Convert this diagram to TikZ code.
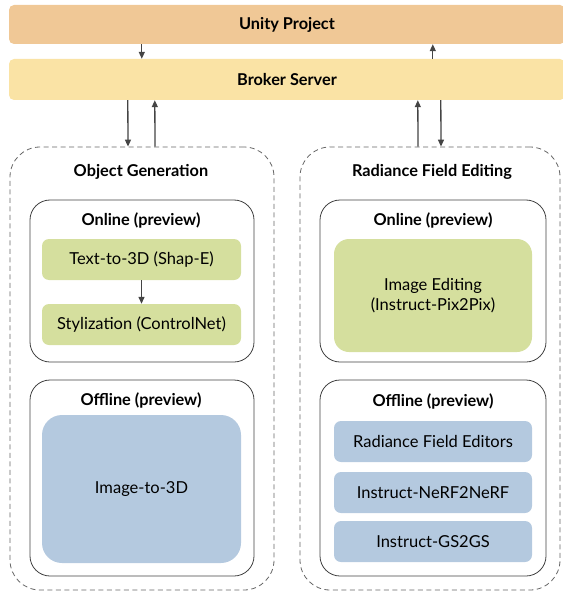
\documentclass[tikz,border=0pt]{standalone}
\usepackage{fontspec}
\setmainfont{Lato}
\usetikzlibrary{arrows.meta,positioning}
\definecolor{unityc}{HTML}{F0C896}
\definecolor{brokerc}{HTML}{FAE3A5}
\definecolor{greenc}{HTML}{D5DF9E}
\definecolor{bluec}{HTML}{B4C9DF}
\definecolor{arrc}{HTML}{444444}
\tikzset{
  band/.style={fill=#1,draw=none,rounded corners=5pt,inner sep=0pt,font=\fontsize{16.3}{19}\selectfont\bfseries},
  group/.style={draw=black!60,dashed,dash pattern=on 5pt off 3.5pt,line width=0.8pt,rounded corners=30pt,inner sep=0pt},
  panel/.style={draw=black!75,line width=0.8pt,rounded corners=20pt,inner sep=0pt},
  item/.style={fill=#1,draw=none,rounded corners=7pt,inner sep=0pt,align=center,font=\fontsize{16.5}{20}\selectfont},
  title/.style={font=\fontsize{16.3}{19}\selectfont\bfseries,inner sep=0pt},
  arr/.style={draw=arrc,line width=1.3pt,-{Triangle[length=7pt,width=6pt]}}
}
\begin{document}
\begin{tikzpicture}[x=1pt,y=-1pt]
\useasboundingbox (0,0) rectangle (562,596);
% bands
\node[band=unityc,minimum width=556pt,minimum height=39pt] (unity) at (287,24.5) {Unity Project};
\node[band=brokerc,minimum width=556pt,minimum height=41pt] (broker) at (287,79.5) {Broker Server};
% groups
\node[group,minimum width=264pt,minimum height=443pt] (og) at (142,368.5) {};
\node[group,minimum width=260pt,minimum height=443pt] (rf) at (430,368.5) {};
\node[title] (ogt) at (141,172) {Object Generation};
\node[title] (rft) at (432,172) {Radiance Field Editing};
% left panels
\node[panel,minimum width=224pt,minimum height=162pt] (lon) at (142,281) {};
\node[title] (lont) at (141,220) {Online (preview)};
\node[item=greenc,minimum width=199pt,minimum height=41pt] (t3d) at (141.5,259.5) {Text-to-3D (Shap-E)};
\node[item=greenc,minimum width=199pt,minimum height=41pt] (sty) at (141.5,324.5) {Stylization (ControlNet)};
\node[panel,minimum width=224pt,minimum height=196pt] (loff) at (142,478) {};
\node[title] (lofft) at (141,400) {Offline (preview)};
\node[item=bluec,rounded corners=20pt,minimum width=199pt,minimum height=148pt] (i3d) at (141.5,489) {Image-to-3D};
% right panels
\node[panel,minimum width=226pt,minimum height=162pt] (ron) at (433,281) {};
\node[title] (ront) at (433,220) {Online (preview)};
\node[item=greenc,rounded corners=15pt,minimum width=198pt,minimum height=113pt] (ied) at (433,295.5) {Image Editing\\(Instruct-Pix2Pix)};
\node[panel,minimum width=226pt,minimum height=196pt] (roff) at (433,478) {};
\node[title] (rofft) at (433,401) {Offline (preview)};
\node[item=bluec,minimum width=198pt,minimum height=41pt] (rfe) at (433,441.5) {Radiance Field Editors};
\node[item=bluec,minimum width=198pt,minimum height=41pt] (nn) at (433,492.5) {Instruct-NeRF2NeRF};
\node[item=bluec,minimum width=198pt,minimum height=41pt] (gs) at (433,541.5) {Instruct-GS2GS};
% arrows
\draw[arr] ([xshift=133pt]unity.south west) -- ([xshift=133pt]broker.north west);
\draw[arr] ([xshift=424pt]broker.north west) -- ([xshift=424pt]unity.south west);
\draw[arr] ([xshift=119pt]broker.south west) -- ([xshift=-14pt]og.north);
\draw[arr] ([xshift=13pt]og.north) -- ([xshift=146pt]broker.south west);
\draw[arr] ([xshift=-12pt]rf.north) -- ([xshift=409pt]broker.south west);
\draw[arr] ([xshift=432pt]broker.south west) -- ([xshift=11pt]rf.north);
\draw[arr] (t3d) -- (sty);
\end{tikzpicture}
\end{document}
